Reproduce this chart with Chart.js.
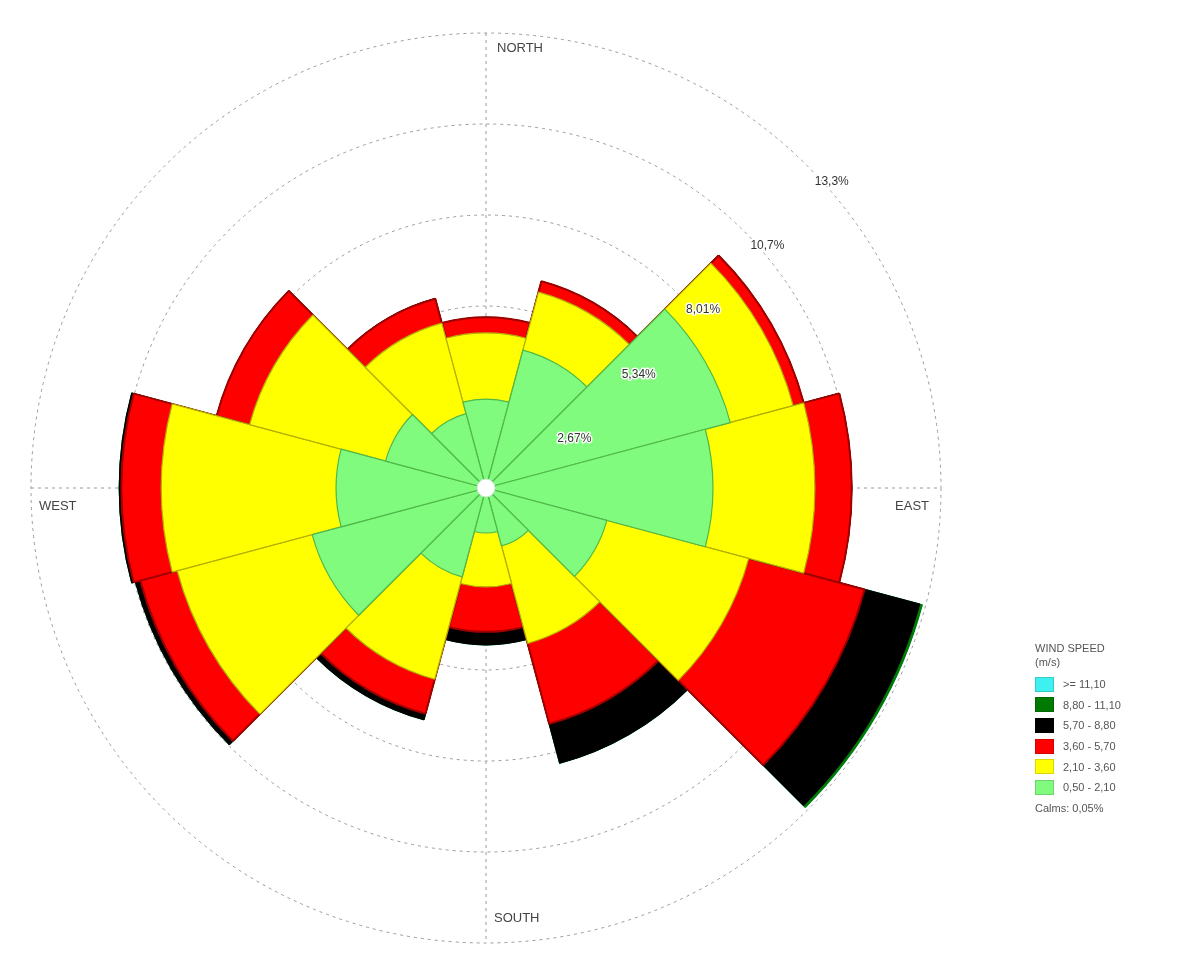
<!DOCTYPE html>
<html>
<head>
<meta charset="utf-8">
<title>Wind rose</title>
<script src="https://cdn.jsdelivr.net/npm/chart.js@4.4.1/dist/chart.umd.min.js"></script>
<style>
  html, body { margin: 0; padding: 0; background: #fff; }
  #wrap { position: relative; width: 1200px; height: 967px; }
  #legend {
    position: absolute; left: 1035px; top: 641px;
    font-family: "Liberation Sans", Arial, sans-serif; font-size: 11px; color: #555;
  }
  #legend .head { line-height: 14px; }
  #legend .row { display: flex; align-items: center; height: 20.6px; }
  #legend .sw { width: 19px; height: 15px; margin-right: 9px; box-sizing: border-box; border: 1px solid rgba(0,0,0,0.15); }
  #legend .calms { margin-top: 4px; }
</style>
</head>
<body>
<div id="wrap">
  <canvas id="rose" width="1200" height="967"></canvas>
  <div id="legend"></div>
</div>
<script>
// 12 sectors of 30 degrees, clockwise from north
const directions = ['N', 'NNE', 'ENE', 'E', 'ESE', 'SSE', 'S', 'SSW', 'WSW', 'W', 'WNW', 'NNW'];

// frequency (%) of each speed class per direction
const band050_210 = [2.61, 4.19, 7.42, 6.66, 3.67, 1.76, 1.32, 2.70, 5.28, 4.40, 3.05, 2.26];
const band210_360 = [1.94, 1.76, 1.91, 2.99, 4.31, 2.96, 1.58, 3.11, 4.10, 5.13, 4.13, 2.75];
const band360_570 = [0.46, 0.33, 0.32, 1.08, 3.52, 2.44, 1.32, 1.05, 1.12, 1.17, 1.00, 0.74];
const band570_880 = [0, 0, 0, 0, 1.67, 1.20, 0.38, 0.18, 0.15, 0.06, 0, 0];
const band880_1110 = [0, 0, 0, 0, 0.08, 0, 0, 0, 0, 0, 0, 0];
const band1110up = [0, 0, 0, 0, 0, 0, 0, 0, 0, 0, 0, 0];

const bandLabels = ['0,50 - 2,10', '2,10 - 3,60', '3,60 - 5,70', '5,70 - 8,80', '8,80 - 11,10', '>= 11,10'];
const bandColors = ['#80fb7e', '#ffff00', '#ff0000', '#000000', '#007a00', '#3ff0f0'];
const bandBorders = ['#4fb84a', '#b3b000', '#a00000', '#000000', '#007a00', '#3ff0f0'];

// rings
const ringValues = [2.67, 5.34, 8.01, 10.68, 13.35];
const ringLabels = ['2,67%', '5,34%', '8,01%', '10,7%', '13,3%'];
const compassLabels = ['NORTH', 'EAST', 'SOUTH', 'WEST'];
const calmsText = 'Calms: 0,05%';

// stacked look: draw cumulative sums, innermost dataset on top
const bands = [band050_210, band210_360, band360_570, band570_880, band880_1110, band1110up];
let running = directions.map(() => 0);
const datasets = bands.map((b, i) => {
    running = running.map((v, k) => v + b[k]);
    return {
        label: bandLabels[i],
        data: running.slice(),
        backgroundColor: bandColors[i],
        borderColor: bandBorders[i],
        borderWidth: i === 2 ? 2 : 1.2
    };
});

const roseDecor = {
    id: 'roseDecor',
    beforeDatasetsDraw(chart) {
        const s = chart.scales.r;
        const ctx = chart.ctx;
        const R = s.drawingArea;
        ctx.save();
        ctx.strokeStyle = '#9a9a9a';
        ctx.lineWidth = 1;
        ctx.setLineDash([3, 4]);
        ctx.beginPath();
        ctx.moveTo(s.xCenter, s.yCenter - R);
        ctx.lineTo(s.xCenter, s.yCenter + R);
        ctx.moveTo(s.xCenter - R, s.yCenter);
        ctx.lineTo(s.xCenter + R, s.yCenter);
        ctx.stroke();
        ctx.restore();
    },
    afterDatasetsDraw(chart) {
        const s = chart.scales.r;
        const ctx = chart.ctx;
        const R = s.drawingArea;
        const cx = s.xCenter, cy = s.yCenter;
        ctx.save();

        // hub
        ctx.beginPath();
        ctx.arc(cx, cy, 9, 0, Math.PI * 2);
        ctx.fillStyle = '#ffffff';
        ctx.fill();
        ctx.strokeStyle = '#c8e8c8';
        ctx.lineWidth = 1;
        ctx.stroke();

        // compass words
        ctx.font = '13px "Liberation Sans", Arial, sans-serif';
        ctx.fillStyle = '#444';
        ctx.textBaseline = 'top';
        ctx.textAlign = 'left';
        ctx.fillText(compassLabels[0], cx + 11, cy - R + 9);
        ctx.fillText(compassLabels[2], cx + 8, cy + R - 31);
        ctx.fillText(compassLabels[3], cx - R + 8, cy + 12);
        ctx.textAlign = 'right';
        ctx.fillText(compassLabels[1], cx + R - 12, cy + 12);

        // ring labels along the north-east diagonal
        ctx.font = '12px "Liberation Sans Narrow", "Liberation Sans", Arial, sans-serif';
        ctx.textAlign = 'left';
        ctx.textBaseline = 'top';
        ctx.lineJoin = 'round';
        ringValues.forEach((v, i) => {
            const d = s.getDistanceFromCenterForValue(v);
            const x = cx + d * Math.SQRT1_2 + 7;
            const y = cy - d * Math.SQRT1_2 + 9;
            ctx.strokeStyle = 'rgba(255,255,255,0.95)';
            ctx.lineWidth = 3;
            ctx.strokeText(ringLabels[i], x, y);
            ctx.fillStyle = '#333';
            ctx.fillText(ringLabels[i], x, y);
        });
        ctx.restore();
    }
};

Chart.defaults.font.family = '"Liberation Sans", Arial, sans-serif';

new Chart(document.getElementById('rose'), {
    type: 'polarArea',
    data: {
        labels: directions,
        datasets: datasets
    },
    options: {
        responsive: false,
        animation: false,
        layout: { padding: { left: 31, right: 259, top: 33, bottom: 24 } },
        plugins: {
            legend: { display: false },
            tooltip: { enabled: false }
        },
        scales: {
            r: {
                min: 0,
                max: 13.35,
                startAngle: -15,
                afterBuildTicks: (scale) => {
                    scale.ticks = [0].concat(ringValues).map(v => ({ value: v }));
                },
                ticks: { display: false },
                angleLines: { display: false },
                pointLabels: { display: false },
                grid: { circular: true, color: '#9a9a9a', lineWidth: 1 },
                border: { dash: [3, 4] }
            }
        }
    },
    plugins: [roseDecor]
});

// legend
const legend = document.getElementById('legend');
legend.innerHTML = '<div class="head">WIND SPEED</div><div class="head" style="margin-bottom:5px">(m/s)</div>';
for (let i = bandLabels.length - 1; i >= 0; i--) {
    const row = document.createElement('div');
    row.className = 'row';
    row.innerHTML = '<span class="sw" style="background:' + bandColors[i] + '"></span><span>' + bandLabels[i] + '</span>';
    legend.appendChild(row);
}
const calms = document.createElement('div');
calms.className = 'calms';
calms.textContent = calmsText;
legend.appendChild(calms);
</script>
</body>
</html>
